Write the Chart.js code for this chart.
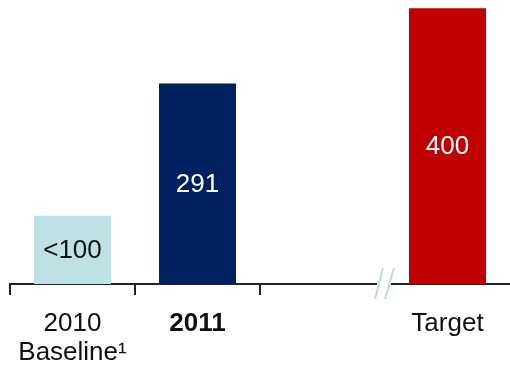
<!DOCTYPE html>
<html>
<head>
<meta charset="utf-8">
<script src="https://cdn.jsdelivr.net/npm/chart.js@4/dist/chart.umd.min.js"></script>
<style>
  html, body { margin: 0; padding: 0; background: #fff; overflow: hidden; }
  #wrap { width: 510px; height: 370px; }
</style>
</head>
<body>
<div id="wrap"><canvas id="c"></canvas></div>
<script>
const categories = [['2010', 'Baseline\u00b9'], '2011', '', 'Target'];
const values = [99, 291, null, 400];
const valueLabels = ['<100', '291', '', '400'];
const barColors = ['#bde1e5', '#002060', 'rgba(0,0,0,0)', '#c00000'];
const labelColors = ['#111', '#fff', '#fff', '#fff'];

const FONT = '"Liberation Sans", Arial, sans-serif';

// texto dentro de cada barra, centrado verticalmente
const barText = {
  id: 'barText',
  afterDatasetsDraw(chart) {
    const ctx = chart.ctx;
    const meta = chart.getDatasetMeta(0);
    ctx.save();
    ctx.font = '26px ' + FONT;
    ctx.textAlign = 'center';
    ctx.textBaseline = 'middle';
    meta.data.forEach((bar, i) => {
      if (values[i] == null) return;
      ctx.fillStyle = labelColors[i];
      ctx.fillText(valueLabels[i], bar.x, (bar.y + bar.base) / 2 + 1);
    });
    ctx.restore();
  }
};

// corte del eje antes de la barra objetivo
const axisBreak = {
  id: 'axisBreak',
  afterDraw(chart) {
    const ctx = chart.ctx;
    const x = chart.scales.x;
    const cx = (x.getPixelForValue(2) + x.getPixelForValue(3)) / 2;
    const cy = x.top;
    ctx.save();
    ctx.fillStyle = '#fff';
    ctx.fillRect(cx - 8, cy - 3, 14, 6);
    ctx.strokeStyle = '#b7dde3';
    ctx.lineWidth = 2;
    ctx.beginPath();
    ctx.moveTo(cx - 10, cy + 15); ctx.lineTo(cx - 2, cy - 16);
    ctx.moveTo(cx + 0, cy + 15); ctx.lineTo(cx + 9, cy - 16);
    ctx.stroke();
    ctx.restore();
  }
};

new Chart(document.getElementById('c'), {
  type: 'bar',
  data: {
    labels: categories,
    datasets: [{
      data: values,
      backgroundColor: barColors,
      borderWidth: 0,
      categoryPercentage: 1,
      barPercentage: 0.616
    }]
  },
  options: {
    responsive: true,
    maintainAspectRatio: false,
    animation: false,
    layout: { padding: { left: 10, right: 0, top: 0, bottom: 0 } },
    plugins: { legend: { display: false }, tooltip: { enabled: false } },
    scales: {
      x: {
        afterFit: s => { s.height = 86; },
        grid: {
          offset: true,
          drawOnChartArea: false,
          drawTicks: true,
          tickLength: 11,
          lineWidth: 2,
          color: c => (c.index < 3 ? '#222' : 'rgba(0,0,0,0)')
        },
        border: { display: true, color: '#222', width: 2 },
        ticks: {
          color: '#111',
          padding: 15,
          maxRotation: 0,
          autoSkip: false,
          font: c => ({ family: FONT, size: 26, weight: c.index === 1 ? 'bold' : 'normal', lineHeight: 1.1 })
        }
      },
      y: {
        display: false,
        min: 0,
        max: 412
      }
    }
  },
  plugins: [barText, axisBreak]
});
</script>
</body>
</html>
